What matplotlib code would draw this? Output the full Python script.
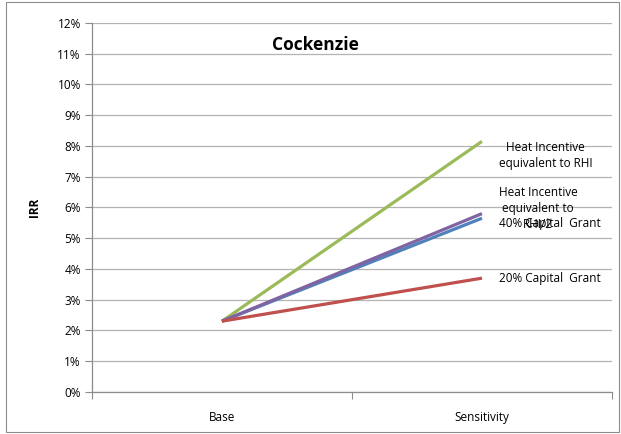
import matplotlib as mpl
mpl.use("Agg")
import matplotlib.pyplot as plt
from matplotlib.patches import Rectangle

# data
categories = ["Base", "Sensitivity"]
series_names = [
    "Heat Incentive\nequivalent to RHI",
    "Heat Incentive\nequivalent to\nRHI/2",
    "40% Capital  Grant",
    "20% Capital  Grant",
]
irr_base = [2.3, 2.3, 2.3, 2.3]
irr_sens = [8.15, 5.8, 5.65, 3.7]
colors = ["#9BBB59", "#8064A2", "#4F81BD", "#C0504D"]
label_dy = [-10, 4, -4, 0]  # text offsets in points
yticks = list(range(0, 13))

mpl.rcParams["font.family"] = ["Open Sans", "DejaVu Sans"]
mpl.rcParams["font.size"] = 8.5

fig = plt.figure(figsize=(6.21, 4.34), dpi=100)
ax = fig.add_axes([0.148, 0.097, 0.8375, 0.85])

# outer frame
fig.patches.append(Rectangle((0.009, 0.005), 0.987, 0.99, transform=fig.transFigure,
                             fill=False, edgecolor="#8C8C8C", linewidth=0.8))

x = list(range(len(categories)))
draw_order = [0, 2, 1, 3]
for i in draw_order:
    ax.plot(x, [irr_base[i], irr_sens[i]], color=colors[i], linewidth=2.3,
            solid_capstyle="butt", zorder=3)

for i, name in enumerate(series_names):
    ax.annotate(name, xy=(1, irr_sens[i]), xytext=(12, label_dy[i]),
                textcoords="offset points", ha="left", va="center",
                fontsize=8.5, multialignment="center", linespacing=1.3, zorder=4)

ax.set_xlim(-0.5, 1.5)
ax.set_ylim(0, 12)
ax.set_yticks(yticks)
ax.set_yticklabels([f"{v}%" for v in yticks])
ax.set_xticks([-0.5, 0.5, 1.5])
ax.set_xticklabels([])
ax.set_xticks(x, minor=True)
ax.set_xticklabels(categories, minor=True)
ax.tick_params(axis="x", which="minor", length=0, pad=14)
ax.tick_params(axis="x", which="major", length=5, color="#8C8C8C")
ax.tick_params(axis="y", length=5, color="#8C8C8C", pad=3)

ax.grid(True, axis="y", color="#B3B3B3", linewidth=0.9)
ax.set_axisbelow(True)
for s in ["top", "right"]:
    ax.spines[s].set_visible(False)
for s in ["left", "bottom"]:
    ax.spines[s].set_color("#8C8C8C")
    ax.spines[s].set_linewidth(0.9)

ax.set_ylabel("IRR", fontweight="bold", labelpad=12)
ax.text(0.36, 11.3, "Cockenzie", fontsize=12.5, fontweight="bold", ha="center", va="center")

fig.savefig("out.png", dpi=100)
